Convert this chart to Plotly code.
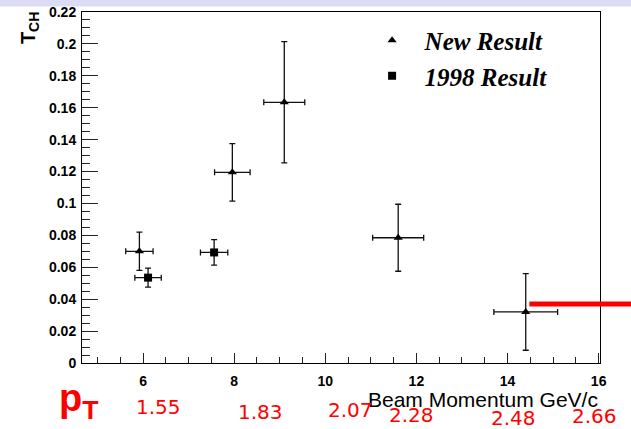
import plotly.graph_objects as go

# T_CH versus beam momentum (GeV/c), with uncertainties
new_p = [5.92, 7.96, 9.10, 11.60, 14.40]
new_p_err = [0.30, 0.39, 0.45, 0.56, 0.70]
new_t = [0.070, 0.1195, 0.1634, 0.0785, 0.032]
new_t_err = [0.012, 0.018, 0.038, 0.021, 0.024]

old_p = [6.11, 7.56]
old_p_err = [0.29, 0.30]
old_t = [0.0535, 0.0693]
old_t_err = [0.006, 0.008]

# transverse momentum values written under the momentum axis
pt_labels = ["1.55", "1.83", "2.07", "2.28", "2.48", "2.66"]
pt_label_p = [6.33, 8.58, 10.55, 11.89, 14.13, 15.90]
pt_label_y = [-0.126, -0.140, -0.134, -0.149, -0.158, -0.150]

# red reference level on the right
ref_level = 0.037
ref_start_p = 14.48

X_RANGE = [4.66, 16.03]
Y_RANGE = [0, 0.22]

def p_to_paper(p):
    return (p - X_RANGE[0]) / (X_RANGE[1] - X_RANGE[0])

err_style = dict(type="data", color="#111111", thickness=1.3, width=3)

GAP = "\u00a0\u00a0"

fig = go.Figure()
fig.add_trace(go.Scatter(
    x=new_p, y=new_t, mode="markers", name=GAP + "New Result",
    marker=dict(symbol="triangle-up", size=8, color="black"),
    error_x=dict(array=new_p_err, **err_style),
    error_y=dict(array=new_t_err, **err_style),
))
fig.add_trace(go.Scatter(
    x=old_p, y=old_t, mode="markers", name=GAP + "1998 Result",
    marker=dict(symbol="square", size=8, color="black"),
    error_x=dict(array=old_p_err, **err_style),
    error_y=dict(array=old_t_err, **err_style),
))

axis_font = dict(family="Liberation Sans", size=14, color="black", weight="bold")

fig.update_xaxes(
    range=X_RANGE, tick0=0, dtick=2, ticks="inside", ticklen=10, tickwidth=1,
    tickcolor="#222", showline=True, linecolor="black", linewidth=1, mirror=True,
    showgrid=False, zeroline=False, tickfont=axis_font, ticklabelstandoff=5,
    automargin=False,
    minor=dict(dtick=0.5, ticks="inside", ticklen=6, tickcolor="#222", showgrid=False),
)
fig.update_yaxes(
    range=Y_RANGE, tick0=0, dtick=0.02, ticks="inside", ticklen=16, tickwidth=1,
    tickcolor="#222", showline=True, linecolor="black", linewidth=1, mirror=True,
    showgrid=False, zeroline=False, tickfont=axis_font, ticklabelstandoff=2,
    automargin=False,
    minor=dict(dtick=0.005, ticks="inside", ticklen=8, tickcolor="#222", showgrid=False),
)

annotations = [
    dict(text="<b>T</b><sub><b>CH</b></sub>", xref="paper", yref="paper",
         x=-0.100, y=1.006, xanchor="center", yanchor="top", textangle=-90,
         showarrow=False, font=dict(family="Liberation Sans", size=20, color="black")),
    dict(text="Beam Momentum GeV/c", xref="paper", yref="paper",
         x=1.0, y=-0.105, xanchor="right", yanchor="middle", showarrow=False,
         font=dict(family="Liberation Sans", size=21, color="black")),
    dict(text="<b>p<sub>T</sub></b>", xref="paper", yref="paper",
         x=-0.006, y=-0.108, xanchor="center", yanchor="middle", showarrow=False,
         font=dict(family="Liberation Sans", size=38, color="#ff0000")),
]
for lab, p, yp in zip(pt_labels, pt_label_p, pt_label_y):
    annotations.append(dict(
        text=lab, x=p, y=yp, xref="x", yref="paper", xanchor="center", yanchor="middle",
        showarrow=False, font=dict(family="DejaVu Sans", size=20, color="#ff0000")))

shapes = [
    # pale band along the top edge
    dict(type="rect", xref="paper", yref="paper", x0=-0.2, x1=1.1, y0=1.016, y1=1.05,
         fillcolor="#dcdcf4", line=dict(width=0), layer="below"),
    # reference level
    dict(type="line", xref="paper", yref="y", x0=p_to_paper(ref_start_p), x1=1.07,
         y0=ref_level, y1=ref_level, line=dict(color="#ff0000", width=5)),
]

fig.update_layout(
    width=631, height=429,
    margin=dict(l=82, r=31, t=12, b=66, autoexpand=False),
    paper_bgcolor="white", plot_bgcolor="white",
    annotations=annotations, shapes=shapes,
    legend=dict(x=0.56, y=0.984, xanchor="left", yanchor="top",
                bgcolor="rgba(0,0,0,0)", borderwidth=0, itemwidth=30,
                font=dict(family="Liberation Serif", size=25, color="black",
                          weight="bold", style="italic")),
    showlegend=True,
)

fig.write_html("out.html")
